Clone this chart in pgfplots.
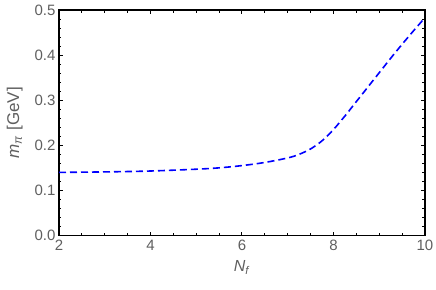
\documentclass[border=0pt]{standalone}
\usepackage{pgfplots}
\pgfplotsset{compat=1.18}
\usepackage{fontspec}
\setmainfont{Liberation Sans}
\definecolor{labgray}{RGB}{95,95,95}
\begin{document}
\begin{tikzpicture}
\useasboundingbox (-59pt,-54pt) rectangle (377pt,235.5pt);
\begin{axis}[
  scale only axis,
  width=366pt, height=225.5pt,
  xmin=2, xmax=10, ymin=0, ymax=0.5,
  xtick={2,4,6,8,10},
  ytick={0,0.1,0.2,0.3,0.4,0.5},
  yticklabel style={/pgf/number format/fixed, /pgf/number format/fixed zerofill, /pgf/number format/precision=1, xshift=0pt},
  minor x tick num=3,
  minor y tick num=4,
  tick align=inside,
  major tick length=4pt,
  minor tick length=2.5pt,
  tick style={black, line width=1pt},
  axis line style={black, line width=1.8pt},
  /pgf/number format/assume math mode=true,
  tick label style={font=\fontsize{15}{17}\selectfont, text=labgray},
  xticklabel style={yshift=-1pt},
  xlabel={\fontsize{16}{18}\selectfont\textcolor{labgray}{\textit{N}\textsubscript{\textit{f}}}},
  ylabel={\fontsize{17}{19}\selectfont\textcolor{labgray}{\textit{m}\textsubscript{\textit{π}} [GeV]}},
  xlabel style={yshift=-3pt},
  ylabel style={yshift=5pt},
]
\addplot[blue, line width=1.6pt, dash pattern=on 7pt off 4pt, smooth] coordinates {
(2,0.140) (3,0.141) (4,0.143) (5,0.147) (5.5,0.150) (6,0.155) (6.5,0.162)
(7,0.172) (7.25,0.180) (7.5,0.192) (7.75,0.210) (8,0.235) (8.25,0.265)
(8.5,0.297) (8.75,0.329) (9,0.361) (9.25,0.393) (9.5,0.424) (9.75,0.454) (10,0.483)
};
\end{axis}
\end{tikzpicture}
\end{document}
